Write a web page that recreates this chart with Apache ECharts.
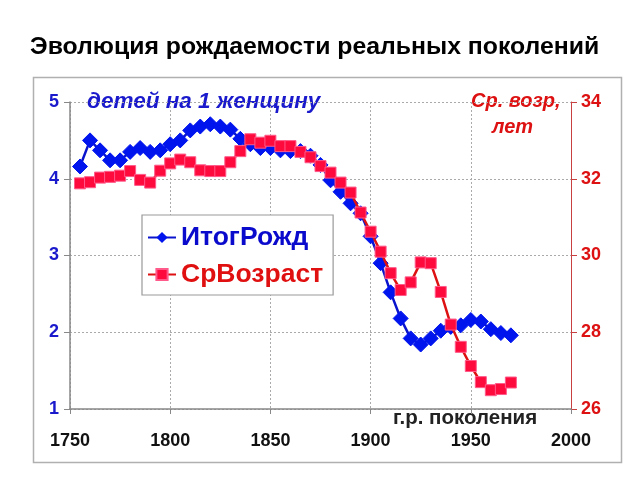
<!DOCTYPE html>
<html>
<head>
<meta charset="utf-8">
<script src="https://cdn.jsdelivr.net/npm/echarts@6/dist/echarts.min.js"></script>
<style>html,body{margin:0;padding:0;background:#fff}#c{width:640px;height:480px}</style>
</head>
<body>
<div id="c"></div>
<script>
var years = [1755,1760,1765,1770,1775,1780,1785,1790,1795,1800,1805,1810,1815,1820,1825,1830,1835,1840,1845,1850,1855,1860,1865,1870,1875,1880,1885,1890,1895,1900,1905,1910,1915,1920,1925,1930,1935,1940,1945,1950,1955,1960,1965,1970];
var itogRozhd = [4.16,4.50,4.37,4.24,4.24,4.35,4.40,4.35,4.37,4.45,4.50,4.63,4.68,4.71,4.68,4.64,4.52,4.45,4.40,4.40,4.37,4.36,4.36,4.30,4.18,3.98,3.83,3.68,3.55,3.25,2.90,2.52,2.18,1.92,1.84,1.92,2.02,2.07,2.09,2.16,2.14,2.04,1.99,1.96];
var srVozrast = [31.88,31.91,32.03,32.05,32.08,32.20,31.97,31.90,32.21,32.40,32.50,32.43,32.22,32.20,32.20,32.43,32.72,33.03,32.94,32.99,32.85,32.85,32.70,32.56,32.33,32.16,31.90,31.64,31.12,30.62,30.10,29.54,29.10,29.30,29.82,29.80,29.05,28.20,27.62,27.12,26.70,26.49,26.52,26.69];
var seriesNames = ['ИтогРожд','СрВозраст'];
var titleText = 'Эволюция рождаемости реальных поколений';

function pairs(xs, ys){ return xs.map(function(x,i){ return [x, ys[i]]; }); }

var chart = echarts.init(document.getElementById('c'), null, {renderer:'canvas'});
var F = 'Liberation Sans, Arial, sans-serif';
chart.setOption({
  animation:false,
  backgroundColor:'#fff',
  title:{text:titleText, left:25, top:30, textStyle:{fontFamily:F, fontSize:24.8, fontWeight:'bold', color:'#000'}},
  graphic:[
    {type:'rect', shape:{x:33.5,y:77.5,width:588,height:385}, style:{fill:'none', stroke:'#b0b0b0', lineWidth:1.5}, z:-1},
    {type:'text', left:87, top:90, style:{text:'детей на 1 женщину', fontFamily:F, fontSize:22.5, fontWeight:'bold', fontStyle:'italic', fill:'#1a1acc'}},
    {type:'text', left:471, top:91, style:{text:'Ср. возр,', fontFamily:F, fontSize:20, fontWeight:'bold', fontStyle:'italic', fill:'#dd1111'}},
    {type:'text', left:492, top:117, style:{text:'лет', fontFamily:F, fontSize:20, fontWeight:'bold', fontStyle:'italic', fill:'#dd1111'}},
    {type:'text', left:393, top:408, style:{text:'г.р. поколения', fontFamily:F, fontSize:20.5, fontWeight:'bold', fill:'#222'}}
  ],
  legend:{
    orient:'vertical', left:142, top:215, padding:[9,10,7,5], itemGap:10,
    backgroundColor:'#fff', borderColor:'#999', borderWidth:1.2,
    itemWidth:28, itemHeight:14,
    data:[
      {name:seriesNames[0], textStyle:{color:'#0a0acc'}},
      {name:seriesNames[1], textStyle:{color:'#e01010'}}
    ],
    textStyle:{fontFamily:F, fontSize:26.5, fontWeight:'bold'}
  },
  grid:{left:70, right:69, top:102, bottom:71},
  xAxis:{type:'value', min:1750, max:2000, interval:50,
    axisLine:{lineStyle:{color:'#888', width:1.5}},
    axisTick:{show:true, inside:false, length:5, lineStyle:{color:'#888'}},
    axisLabel:{margin:23, fontFamily:F, fontSize:18, fontWeight:'bold', color:'#111', formatter:function(v){return String(v);}},
    splitLine:{show:true, lineStyle:{color:'#aaa', type:[2,2], width:1}}
  },
  yAxis:[
    {type:'value', min:1, max:5, interval:1, position:'left',
      axisLine:{show:true, lineStyle:{color:'#888', width:1.5}},
      axisTick:{show:true, length:6, lineStyle:{color:'#888'}},
      axisLabel:{margin:11, fontFamily:F, fontSize:18, fontWeight:'bold', color:'#1a1acc'},
      splitLine:{show:true, lineStyle:{color:'#aaa', type:[2,2], width:1}}
    },
    {type:'value', min:26, max:34, interval:2, position:'right',
      axisLine:{show:true, lineStyle:{color:'#c84040', width:1}},
      axisTick:{show:true, length:6, lineStyle:{color:'#c84040'}},
      axisLabel:{margin:10, fontFamily:F, fontSize:18, fontWeight:'bold', color:'#dd1111'},
      splitLine:{show:false}
    }
  ],
  series:[
    {name:seriesNames[0], type:'line', yAxisIndex:0, data:pairs(years, itogRozhd),
      symbol:'diamond', symbolSize:15,
      lineStyle:{color:'#0a14cc', width:2.5}, itemStyle:{color:'#0014ee', borderColor:'#0014ee'}, z:2},
    {name:seriesNames[1], type:'line', yAxisIndex:1, data:pairs(years, srVozrast),
      symbol:'rect', symbolSize:11,
      lineStyle:{color:'#dd1111', width:2.5}, itemStyle:{color:'#ff0a3c', borderColor:'#ff5a8a', borderWidth:1}, z:3}
  ]
});
</script>
</body>
</html>
